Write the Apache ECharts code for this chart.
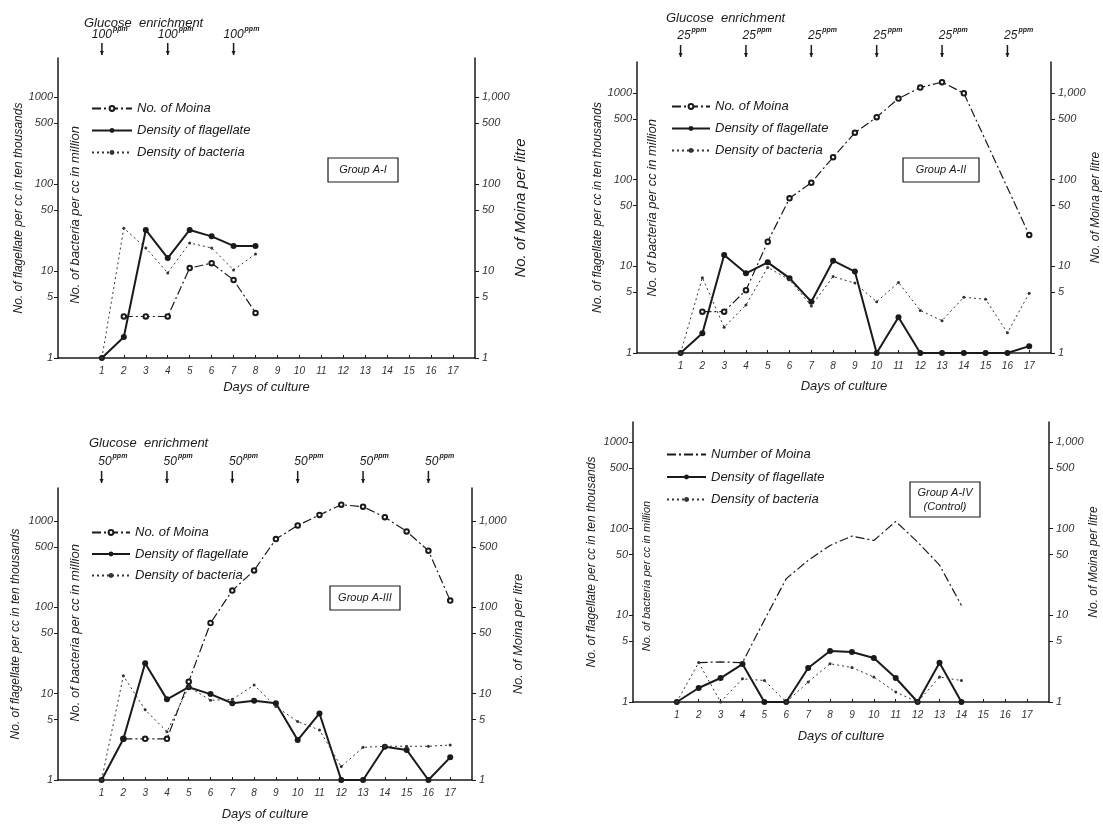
<!DOCTYPE html>
<html><head><meta charset="utf-8">
<script src="https://cdn.jsdelivr.net/npm/echarts@6/dist/echarts.min.js"></script>
<style>html,body{margin:0;padding:0;background:#fff}#c{width:1103px;height:824px}</style>
</head><body><div id="c"></div>
<script>
// ---------- data ----------
const days = [1,2,3,4,5,6,7,8,9,10,11,12,13,14,15,16,17];
const dayTickLabels = ['1','2','3','4','5','6','7','8','9','10','11','12','13','14','15','16','17'];
const yTickValues = [1,5,10,50,100,500,1000];
const leftTickLabels = ['1','5','10','50','100','500','1000'];
const rightTickLabels = ['1','5','10','50','100','500','1,000'];

// Group A-I
const moinaA1 = [null,3,3,3,10.8,12.3,7.9,3.3];
const flagA1  = [1,1.74,29.6,14.1,29.6,25,19.4,19.4];
const bactA1  = [1,31,18.4,9.5,21,18.4,10.3,15.7];
const glucoseDaysA1 = [1,4,7];
const glucoseDoseA1 = '100';

// Group A-II
const moinaA2 = [null,3.0,3.0,5.3,19.2,60.8,92,181,347,525,860,1150,1330,990,null,null,23];
const flagA2  = [1,1.69,13.5,8.3,11.1,7.3,3.9,11.6,8.7,1,2.58,1,1,1,1,1,1.2];
const bactA2  = [1,7.4,1.98,3.58,9.7,7.0,3.49,7.6,6.4,3.9,6.5,3.1,2.36,4.4,4.16,1.71,4.9];
const glucoseDaysA2 = [1,4,7,10,13,16];
const glucoseDoseA2 = '25';

// Group A-III
const moinaA3 = [null,3.0,3.0,3.0,13.8,66,157,268,620,890,1180,1550,1470,1110,760,455,120];
const flagA3  = [1,2.98,22.5,8.6,11.9,9.9,7.75,8.3,7.75,2.9,5.9,1,1,2.43,2.23,1,1.83];
const bactA3  = [1,16.1,6.5,3.63,12,8.4,8.6,12.6,7.1,4.75,3.8,1.43,2.39,2.46,2.46,2.46,2.54];
const glucoseDaysA3 = [1,4,7,10,13,16];
const glucoseDoseA3 = '50';

// Group A-IV (Control)
const moinaA4 = [null,2.85,2.9,2.85,8.8,26.5,43,64,82,73,121,70,38,13];
const flagA4  = [1,1.45,1.89,2.74,1,1,2.47,3.87,3.77,3.22,1.89,1,2.84,1];
const bactA4  = [1,2.85,1,1.85,1.77,1,1.7,2.76,2.5,1.94,1.3,1,1.94,1.77];

const groupNames = [['Group A-I'],['Group A-II'],['Group A-III'],['Group A-IV','(Control)']];
const moinaNames = ['No. of Moina','No. of Moina ','No. of Moina  ','Number of Moina'];
const flagNames  = ['Density of flagellate','Density of flagellate ','Density of flagellate  ','Density of flagellate   '];
const bactNames  = ['Density of bacteria','Density of bacteria ','Density of bacteria  ','Density of bacteria   '];
const leftTitle  = 'No. of flagellate per cc in ten thousands';
const innerTitle = 'No. of bacteria per cc in million';
const rightTitle = 'No. of Moina per litre';
const xTitle = 'Days of culture';
const glucoseTitle = 'Glucose  enrichment';

const panelData = [
  {moina:moinaA1, flag:flagA1, bact:bactA1, gDays:glucoseDaysA1, gDose:glucoseDoseA1},
  {moina:moinaA2, flag:flagA2, bact:bactA2, gDays:glucoseDaysA2, gDose:glucoseDoseA2},
  {moina:moinaA3, flag:flagA3, bact:bactA3, gDays:glucoseDaysA3, gDose:glucoseDoseA3},
  {moina:moinaA4, flag:flagA4, bact:bactA4, gDays:[], gDose:''}
];

// ---------- layout ----------
const layout = [
  {grid:{left:58,top:58,width:417,height:300}, yMax:3.448, legend:{left:86,top:97,w:40,gap:9},
   box:{x:328,y:158,w:70,h:24}, inner:{x:75,y:215}, gl:{tx:84,ty:23,ly:35,a1:43,a2:55},
   lGap:33, rGap:34, rSize:15, xGap:23},
  {grid:{left:637,top:62,width:414,height:291}, yMax:3.356, legend:{left:666,top:95,w:38,gap:9},
   box:{x:903,y:158,w:76,h:24}, inner:{x:652,y:208}, gl:{tx:666,ty:18,ly:36,a1:45,a2:57},
   lGap:33, rGap:33, rSize:12, xGap:27},
  {grid:{left:58,top:488,width:414,height:292}, yMax:3.384, legend:{left:86,top:521,w:38,gap:8.5},
   box:{x:330,y:586,w:70,h:24}, inner:{x:75,y:633}, gl:{tx:89,ty:443,ly:462,a1:471,a2:483},
   lGap:36, rGap:40, rSize:13, xGap:28},
  {grid:{left:633,top:422,width:416,height:280}, yMax:3.23, legend:{left:661,top:443,w:39,gap:9.5},
   box:{x:910,y:482,w:70,h:35}, inner:{x:647,y:576}, gl:null,
   lGap:35, rGap:36, rSize:12, xGap:28}
];

const FONT = '"Liberation Sans", "DejaVu Sans", sans-serif';
const INK = '#1a1a1a';
const lg = v => Math.log10(v);
const yCustom = yTickValues.map(lg);
function tickLabel(arr){ return v => { let best=0, d=1e9; yCustom.forEach((c,i)=>{ if(Math.abs(c-v)<d){d=Math.abs(c-v);best=i;} }); return arr[best]; }; }
function toPairs(arr){ return arr.map((v,i)=> v==null ? [days[i], null] : [days[i], lg(v)]); }

const grids=[], xAxes=[], yAxes=[], series=[], legends=[];
layout.forEach((L,i)=>{
  grids.push(Object.assign({containLabel:false}, L.grid));
  xAxes.push({type:'value', gridIndex:i, min:-1, max:18,
    axisLine:{show:true, onZero:false, lineStyle:{color:INK,width:1.5}},
    axisTick:{show:true, inside:true, length:3, customValues:days, lineStyle:{color:INK}},
    axisLabel:{show:true, customValues:days, formatter:v=>dayTickLabels[days.indexOf(Math.round(v))]||'',
      fontSize:10, fontStyle:'italic', color:'#333', fontFamily:FONT, margin:8},
    splitLine:{show:false},
    name:xTitle, nameLocation:'middle', nameGap:L.xGap,
    nameTextStyle:{fontSize:13, fontStyle:'italic', color:INK, fontFamily:FONT}
  });
  const yCommon = {type:'value', gridIndex:i, min:0, max:L.yMax, splitLine:{show:false},
    axisLine:{show:true, onZero:false, lineStyle:{color:INK,width:1.5}},
    axisTick:{show:true, length:4, customValues:yCustom, lineStyle:{color:INK}},
    nameLocation:'middle', nameRotate:90,
    nameTextStyle:{fontStyle:'italic', color:INK, fontFamily:FONT}};
  yAxes.push(Object.assign({}, yCommon, {position:'left',
    axisLabel:{customValues:yCustom, formatter:tickLabel(leftTickLabels), fontSize:11, fontStyle:'italic', color:'#333', fontFamily:FONT, margin:5},
    name:leftTitle, nameGap:L.lGap, nameTextStyle:Object.assign({}, yCommon.nameTextStyle,{fontSize:12})}));
  yAxes.push(Object.assign({}, yCommon, {position:'right',
    axisLabel:{customValues:yCustom, formatter:tickLabel(rightTickLabels), fontSize:11, fontStyle:'italic', color:'#333', fontFamily:FONT, margin:7},
    name:rightTitle, nameGap:L.rGap, nameTextStyle:Object.assign({}, yCommon.nameTextStyle,{fontSize:L.rSize})}));

  const D = panelData[i];
  series.push({name:moinaNames[i], type:'line', xAxisIndex:i, yAxisIndex:2*i+1, data:toPairs(D.moina),
    connectNulls:true, symbol: i===3?'none':'emptyCircle', symbolSize:4.5,
    lineStyle:{color:INK,width:1.2,type:[9,3,2,3]}, itemStyle:{color:INK,borderWidth:1}});
  series.push({name:flagNames[i], type:'line', xAxisIndex:i, yAxisIndex:2*i, data:toPairs(D.flag),
    symbol:'circle', symbolSize:6, lineStyle:{color:INK,width:2}, itemStyle:{color:INK}});
  series.push({name:bactNames[i], type:'line', xAxisIndex:i, yAxisIndex:2*i, data:toPairs(D.bact),
    symbol:'circle', symbolSize:3, lineStyle:{color:'#333',width:1,type:[2,3]}, itemStyle:{color:'#333'}});
  const moinaLegend = i===3 ? {name:moinaNames[i], itemStyle:{opacity:0}} : moinaNames[i];
  legends.push({orient:'vertical', left:L.legend.left, top:L.legend.top, itemWidth:L.legend.w, itemHeight:6,
    itemGap:L.legend.gap, data:[moinaLegend,flagNames[i],bactNames[i]], selectedMode:false,
    textStyle:{fontSize:13, fontStyle:'italic', color:INK, fontFamily:FONT}});
});

const chart = echarts.init(document.getElementById('c'), null, {renderer:'canvas'});
chart.setOption({backgroundColor:'#fff', animation:false, grid:grids, xAxis:xAxes, yAxis:yAxes, series:series, legend:legends});

// ---------- annotations ----------
const gfx = [];
layout.forEach((L,i)=>{
  const lines = groupNames[i];
  gfx.push({type:'rect', shape:{x:L.box.x,y:L.box.y,width:L.box.w,height:L.box.h}, style:{fill:'#fff',stroke:INK,lineWidth:1.2}});
  gfx.push({type:'text', x:L.box.x+L.box.w/2, y:L.box.y+L.box.h/2, style:{text:lines.join('\n'), fontSize:11, fontStyle:'italic', fill:INK, fontFamily:FONT, align:'center', verticalAlign:'middle', lineHeight:14}});
  gfx.push({type:'text', x:L.inner.x, y:L.inner.y, rotation:Math.PI/2, style:{text:innerTitle, fontSize:i===3?11:13, fontStyle:'italic', fill:INK, fontFamily:FONT, align:'center', verticalAlign:'middle'}});
  const D = panelData[i];
  if (L.gl && D.gDays.length){
    gfx.push({type:'text', x:L.gl.tx, y:L.gl.ty, style:{text:glucoseTitle, fontSize:13, fontStyle:'italic', fill:INK, fontFamily:FONT, align:'left', verticalAlign:'middle'}});
    D.gDays.forEach(d=>{
      const px = chart.convertToPixel({xAxisIndex:i}, d);
      gfx.push({type:'text', x:px+10, y:L.gl.ly, style:{text:D.gDose, fontSize:12, fontStyle:'italic', fill:INK, fontFamily:FONT, align:'right', verticalAlign:'middle'}});
      gfx.push({type:'text', x:px+11, y:L.gl.ly-6, style:{text:'ppm', fontSize:7, fontStyle:'italic', fontWeight:'bold', fill:INK, fontFamily:FONT, align:'left', verticalAlign:'middle'}});
      gfx.push({type:'line', shape:{x1:px,y1:L.gl.a1,x2:px,y2:L.gl.a2}, style:{stroke:INK,lineWidth:1.5}});
      gfx.push({type:'polygon', shape:{points:[[px-2,L.gl.a2-4],[px+2,L.gl.a2-4],[px,L.gl.a2]]}, style:{fill:INK}});
    });
  }
});
chart.setOption({graphic:gfx});
</script>
</body></html>
